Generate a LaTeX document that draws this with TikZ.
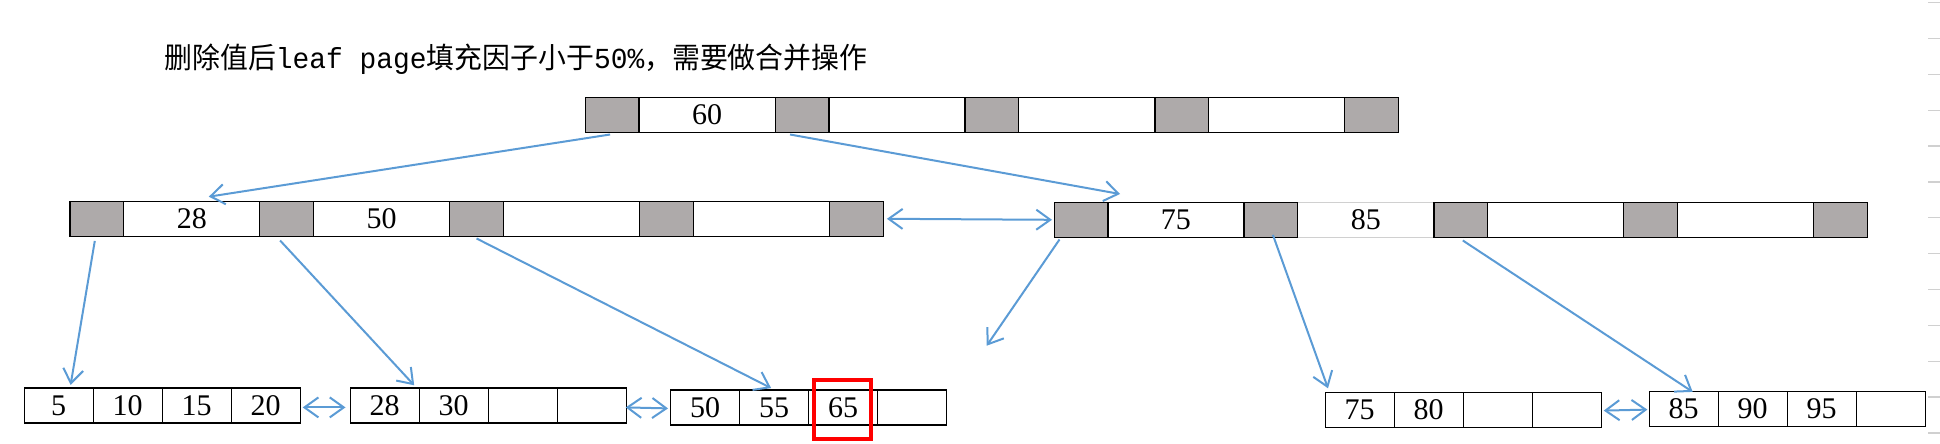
\documentclass[tikz,border=0pt]{standalone}
\usepackage{fontspec}
\setmainfont{Liberation Serif}
\setmonofont{Liberation Mono}
\newfontfamily\cjk{Noto Sans CJK SC}
\usetikzlibrary{arrows.meta}
\definecolor{cellgray}{HTML}{AEAAAA}
\definecolor{arrowblue}{HTML}{5B9BD5}
\definecolor{ticklight}{HTML}{D0D0D0}
\newcommand{\digitfont}{\fontsize{15}{17}\selectfont}
\newcommand{\cv}[1]{\raisebox{-1.4pt}{#1}}
\tikzset{
  cell/.style={draw=black, line width=0.6pt, minimum height=17.5pt, inner sep=0pt, anchor=north west, font=\digitfont},
  gcell/.style={cell, fill=cellgray, minimum width=26.9pt},
  wcell/.style={cell, fill=white, minimum width=68.05pt},
  lcell/.style={cell, fill=white, minimum width=34.5pt},
  link/.style={draw=arrowblue, line width=1pt, -{Straight Barb[length=7pt,width=10pt]}},
  dlink/.style={draw=arrowblue, line width=1pt, {Straight Barb[length=7pt,width=10pt]}-{Straight Barb[length=7pt,width=10pt]}},
  redbox/.style={draw=red, line width=2pt, inner sep=0pt, minimum width=28.5pt, minimum height=29.35pt}
}
\begin{document}
\begin{tikzpicture}[x=0.5pt,y=-0.5pt]
\useasboundingbox (0,0) rectangle (1940,444);
% title
\node[anchor=base west, inner sep=0pt, font=\fontsize{14.5}{17}\selectfont] (title) at (164,69)
  {\scalebox{0.962}[1]{\cjk 删除值后\texttt{leaf page}填充因子小于\texttt{50\%}，需要做合并操作}};
% top node
\node[gcell] (t-g1) at (584.6,96.7) {};
\node[wcell] (t-w1) at (638.4,96.7) {\cv{60}};
\node[gcell] (t-g2) at (774.5,96.7) {};
\node[wcell] (t-w2) at (828.3,96.7) {};
\node[gcell] (t-g3) at (964.4,96.7) {};
\node[wcell] (t-w3) at (1018.2,96.7) {};
\node[gcell] (t-g4) at (1154.3,96.7) {};
\node[wcell] (t-w4) at (1208.1,96.7) {};
\node[gcell] (t-g5) at (1344.2,96.7) {};
% middle left node
\node[gcell] (ml-g1) at (69.3,200.7) {};
\node[wcell] (ml-w1) at (123.1,200.7) {\cv{28}};
\node[gcell] (ml-g2) at (259.2,200.7) {};
\node[wcell] (ml-w2) at (313.0,200.7) {\cv{50}};
\node[gcell] (ml-g3) at (449.1,200.7) {};
\node[wcell] (ml-w3) at (502.9,200.7) {};
\node[gcell] (ml-g4) at (639.0,200.7) {};
\node[wcell] (ml-w4) at (692.8,200.7) {};
\node[gcell] (ml-g5) at (828.9,200.7) {};
% middle right node
\node[wcell, draw=ticklight] (mr-w2) at (1297.2,201.7) {\cv{85}};
\node[gcell] (mr-g1) at (1053.5,201.7) {};
\node[wcell] (mr-w1) at (1107.3,201.7) {\cv{75}};
\node[gcell] (mr-g2) at (1243.4,201.7) {};
\node[gcell] (mr-g3) at (1433.3,201.7) {};
\node[wcell] (mr-w3) at (1487.1,201.7) {};
\node[gcell] (mr-g4) at (1623.2,201.7) {};
\node[wcell] (mr-w4) at (1677.0,201.7) {};
\node[gcell] (mr-g5) at (1813.1,201.7) {};
% leaf 1
\node[lcell] (l1-c1) at (23.5,387.3) {\cv{5}};
\node[lcell] (l1-c2) at (92.5,387.3) {\cv{10}};
\node[lcell] (l1-c3) at (161.5,387.3) {\cv{15}};
\node[lcell] (l1-c4) at (230.5,387.3) {\cv{20}};
% leaf 2
\node[lcell] (l2-c1) at (349.5,387.3) {\cv{28}};
\node[lcell] (l2-c2) at (418.5,387.3) {\cv{30}};
\node[lcell] (l2-c3) at (487.5,387.3) {};
\node[lcell] (l2-c4) at (556.5,387.3) {};
% leaf 3
\node[lcell] (l3-c1) at (670,389.3) {\cv{50}};
\node[lcell] (l3-c2) at (739,389.3) {\cv{55}};
\node[lcell] (l3-c3) at (808,389.3) {\cv{65}};
\node[lcell] (l3-c4) at (877,389.3) {};
% leaf 4
\node[lcell] (l4-c1) at (1324.5,391.7) {\cv{75}};
\node[lcell] (l4-c2) at (1393.5,391.7) {\cv{80}};
\node[lcell] (l4-c3) at (1462.5,391.7) {};
\node[lcell] (l4-c4) at (1531.5,391.7) {};
% leaf 5
\node[lcell] (l5-c1) at (1648.6,390.7) {\cv{85}};
\node[lcell] (l5-c2) at (1717.6,390.7) {\cv{90}};
\node[lcell] (l5-c3) at (1786.6,390.7) {\cv{95}};
\node[lcell] (l5-c4) at (1855.6,390.7) {};
% highlight
\node[redbox] (hl) at (842.8,409.7) {};
% dangling end
\coordinate (dangle) at (986.7,345.7);
% connectors
\draw[link] ([xshift=-1pt,yshift=-0.8pt]t-g1.south) -- ([xshift=8.5pt,yshift=2pt]ml-w1.north);
\draw[link] ([xshift=-6pt,yshift=-0.8pt]t-g2.south) -- ([xshift=6.35pt,yshift=3.85pt]mr-w1.north west);
\draw[dlink] ([xshift=1.5pt]ml-g5.east) -- ([xshift=-0.75pt]mr-g1.west);
\draw[link] ([xshift=-1pt,yshift=-2pt]ml-g1.south) -- ([xshift=6pt,yshift=1.2pt]l1-c1.north);
\draw[link] ([xshift=-3.3pt,yshift=-1.8pt]ml-g2.south) -- ([xshift=-2.75pt,yshift=1pt]l2-c1.north east);
\draw[link] ([yshift=-0.8pt]ml-g3.south) -- ([xshift=-1.5pt,yshift=0.6pt]l3-c2.north);
\draw[link] ([xshift=3pt,yshift=-0.8pt]mr-g1.south west) -- (dangle);
\draw[link] ([xshift=1pt,yshift=1.5pt]mr-g2.south) -- ([xshift=1.75pt,yshift=1.7pt]l4-c1.north west);
\draw[link] ([xshift=1pt,yshift=-1.3pt]mr-g3.south) -- ([xshift=4.5pt,yshift=-0.6pt]l5-c1.north);
\draw[dlink] ([xshift=1pt,yshift=-1pt]l1-c4.east) -- ([xshift=-2pt,yshift=-1pt]l2-c1.west);
\draw[dlink] ([xshift=-0.5pt,yshift=-1pt]l2-c4.east) -- ([xshift=-1pt,yshift=-0.5pt]l3-c1.west);
\draw[dlink] ([xshift=1pt,yshift=-0.4pt]l4-c4.east) -- ([xshift=-0.6pt,yshift=-0.4pt]l5-c1.west);
% faint row marks at the right edge
\foreach \k in {0,...,12} {
  \draw[ticklight, line width=0.6pt] (1928,2.7+35.85*\k) -- (1940,2.7+35.85*\k);
}
\end{tikzpicture}
\end{document}
